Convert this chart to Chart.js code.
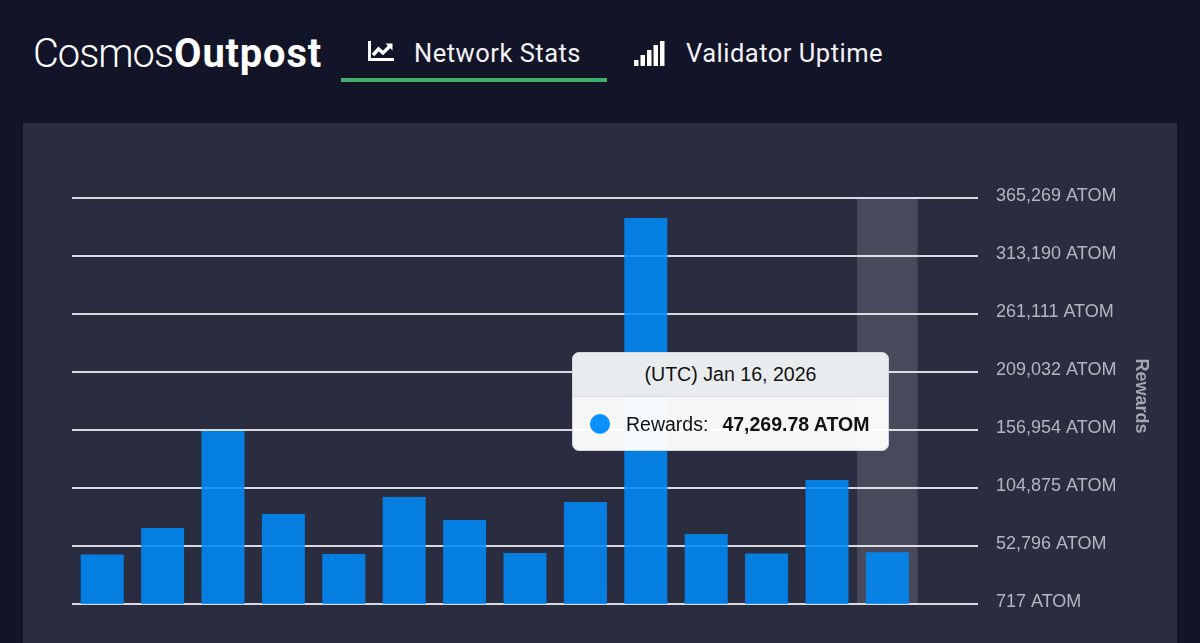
<!DOCTYPE html>
<html lang="en">
<head>
    <meta charset="UTF-8">
    <title>CosmosOutpost - Network Stats</title>
    <script src="https://cdn.jsdelivr.net/npm/chart.js"></script>
    <style>
        html, body { margin: 0; width: 1200px; height: 643px; overflow: hidden; background: #121528; color: #fff; }
        .logo { position: absolute; left: 33px; top: 30px; font: 300 39.8px Roboto; letter-spacing: -1px; }
        .logo b { font-weight: 700; letter-spacing: 0.85px; margin-left: 1px; }
        .tab { position: absolute; top: 38px; font: 400 25.5px Roboto; letter-spacing: 0.5px; color: #f2f2f4; }
        .tabline { position: absolute; left: 341px; top: 78px; width: 266px; height: 4px; background: #3fae6e; }
        svg { position: absolute; }
        .panel { position: absolute; left: 23px; top: 123px; width: 1154px; height: 520px; background: #2a2d40; }
        #chart { position: absolute; left: 0; top: 0; }
        #tip { position: absolute; left: 572px; top: 352px; width: 317px; height: 99px; box-sizing: border-box; border-radius: 7px; background: rgba(255,255,255,0.96); border: 1px solid #d5d7dc; color: #111; font-family: "Liberation Sans"; overflow: hidden; }
        #tipTitle { height: 43px; line-height: 43px; text-align: center; font-size: 19.6px; background: #e9ecef; border-bottom: 1px solid #d8dbe0; }
        #tipBody { position: relative; height: 54px; line-height: 54px; font-size: 19.5px; padding-left: 53px; white-space: nowrap; }
        #tipBody i { position: absolute; left: 17px; top: 17px; width: 20px; height: 20px; border-radius: 50%; background: #0a90ff; }
        #tipBody b { margin-left: 14px; }
    </style>
</head>
<body>
    <div class="logo">Cosmos<b>Outpost</b></div>
    <svg style="left:368px;top:41px" width="26" height="21" viewBox="0 0 26 21">
        <path d="M1.5 0V18.5H26" fill="none" stroke="#fff" stroke-width="3"/>
        <path d="M5 14L10.5 8L15 12L22 5" fill="none" stroke="#fff" stroke-width="3.4"/>
        <path d="M17.5 2.5H24.5V9.5Z" fill="#fff"/>
    </svg>
    <div class="tab" style="left:414px">Network Stats</div>
    <div class="tabline"></div>
    <svg style="left:634px;top:41px" width="31" height="25" viewBox="0 0 31 25" fill="#fff">
        <rect x="0" y="19" width="4.5" height="6"/>
        <rect x="6.5" y="14" width="4.5" height="11"/>
        <rect x="13" y="9" width="4.5" height="16"/>
        <rect x="19.5" y="4" width="4.5" height="21"/>
        <rect x="26" y="0" width="4.5" height="25"/>
    </svg>
    <div class="tab" style="left:686px">Validator Uptime</div>

    <div class="panel"><canvas id="chart" width="1154" height="520"></canvas></div>

    <div id="tip">
        <div id="tipTitle"></div>
        <div id="tipBody"><i></i><span id="tipLabel"></span>:<b id="tipValue"></b></div>
    </div>

    <script>
        // last category stays empty, the bars stop one slot before the end of the grid
        const categories = ["Jan 3, 2026", "Jan 4, 2026", "Jan 5, 2026", "Jan 6, 2026", "Jan 7, 2026", "Jan 8, 2026", "Jan 9, 2026",
            "Jan 10, 2026", "Jan 11, 2026", "Jan 12, 2026", "Jan 13, 2026", "Jan 14, 2026", "Jan 15, 2026", "Jan 16, 2026", "Jan 17, 2026"];
        const rewards = [45168, 68965, 156071, 81537, 45617, 96803, 76149, 46515, 92313, 347345, 63577, 46066, 112069, 47269.78, null];
        const tickValues = [717, 52796, 104875, 156954, 209032, 261111, 313190, 365269];
        const hoveredIndex = 13;

        const fmt = v => Math.round(v).toLocaleString('en-US') + ' ATOM';

        // hover band behind the bars
        const hoverBand = {
            id: 'hoverBand',
            beforeDatasetsDraw(chart) {
                const x = chart.scales.x, y = chart.scales.y;
                const step = x.getPixelForValue(1) - x.getPixelForValue(0);
                const c = x.getPixelForValue(hoveredIndex);
                chart.ctx.fillStyle = 'rgba(255,255,255,0.14)';
                chart.ctx.fillRect(c - step / 2, y.top, step, y.bottom - y.top);
            }
        };

        new Chart(document.getElementById('chart').getContext('2d'), {
            type: 'bar',
            data: {
                labels: categories,
                datasets: [{
                    label: 'Rewards',
                    data: rewards,
                    backgroundColor: 'rgba(0,138,248,0.88)',
                    barPercentage: 0.712,
                    categoryPercentage: 1
                }]
            },
            options: {
                responsive: false,
                animation: false,
                layout: { padding: { left: 49, top: 75, right: 0, bottom: 39 } },
                plugins: { legend: { display: false }, tooltip: { enabled: false } },
                scales: {
                    x: { display: false },
                    y: {
                        position: 'right',
                        min: 717,
                        max: 365269,
                        afterBuildTicks: axis => { axis.ticks = tickValues.map(v => ({ value: v })); },
                        afterFit: axis => { axis.width = 199; },
                        border: { display: false },
                        grid: { color: '#d9d9de', lineWidth: 2, drawTicks: false },
                        ticks: {
                            color: '#b4b5bd',
                            padding: 18,
                            autoSkip: false,
                            // the empty second line lifts the label 2px above its grid line
                            font: { family: 'Liberation Sans', size: 18, lineHeight: '4px' },
                            callback: v => [fmt(v), '']
                        },
                        title: {
                            display: true,
                            text: 'Rewards  ',
                            color: '#a5a6ae',
                            padding: { top: 25, bottom: 0 },
                            font: { family: 'Liberation Sans', size: 18, weight: 'bold' }
                        }
                    }
                }
            },
            plugins: [hoverBand]
        });

        document.getElementById('tipTitle').textContent = '(UTC) ' + categories[hoveredIndex];
        document.getElementById('tipLabel').textContent = 'Rewards';
        document.getElementById('tipValue').textContent = rewards[hoveredIndex].toLocaleString('en-US', { minimumFractionDigits: 2 }) + ' ATOM';
    </script>
</body>
</html>
